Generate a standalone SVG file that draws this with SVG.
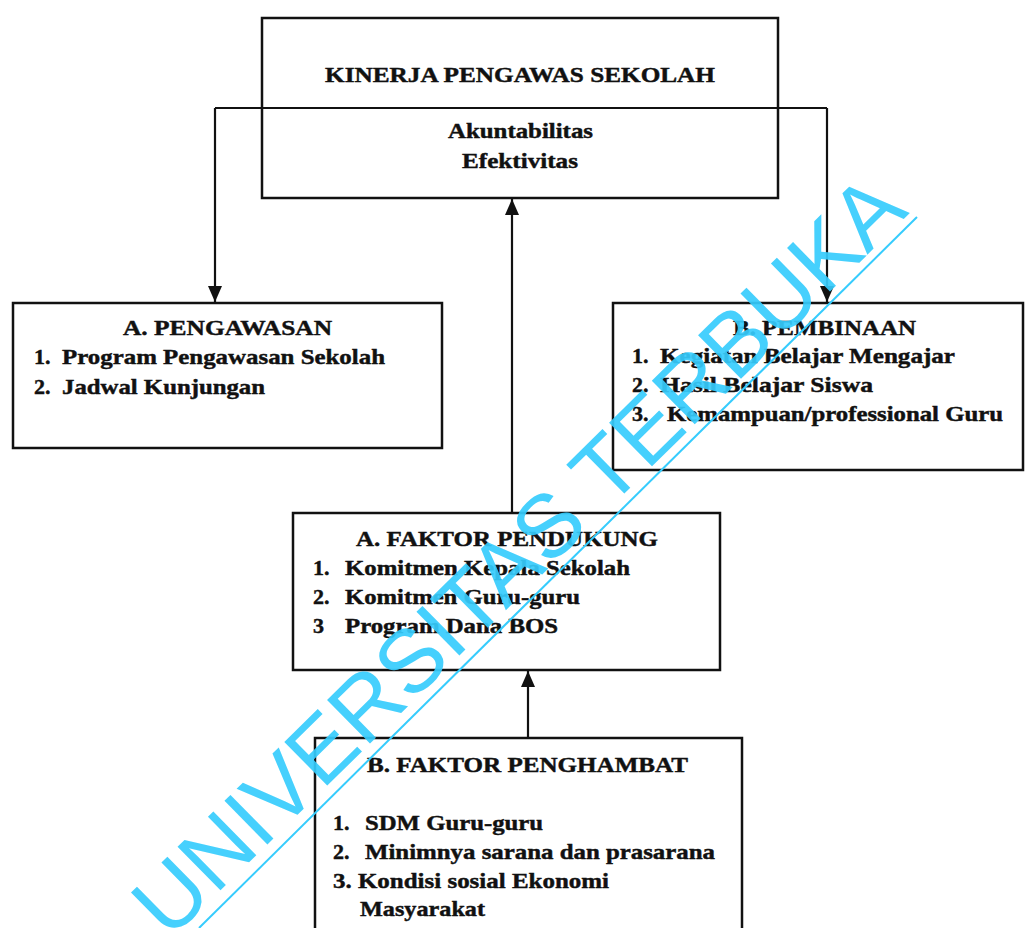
<svg xmlns="http://www.w3.org/2000/svg" width="1026" height="928" viewBox="0 0 1026 928">
<style>
  .box { fill: #ffffff; stroke: #111111; stroke-width: 2.5; }
  .conn { fill: none; stroke: #111111; stroke-width: 2.2; }
  .t { font-family: "Liberation Serif", "Times New Roman", serif; font-weight: bold; font-size: 22px; fill: #111111; stroke: #111111; stroke-width: 0.45; }
  .wm { font-family: "Liberation Sans", Arial, sans-serif; font-size: 89px; fill: #36ccfd; fill-opacity: 0.92; }
</style>
<defs>
  <marker id="ah" markerUnits="userSpaceOnUse" markerWidth="16" markerHeight="16" viewBox="0 0 16 16" refX="16" refY="8" orient="auto">
    <path d="M0,1 L16,8 L0,15 Z" fill="#111111"/>
  </marker>
</defs>
<rect x="0" y="0" width="1026" height="928" fill="#ffffff"/>

<g id="kinerja">
  <rect class="box" x="262" y="18" width="516" height="180"/>
  <text class="t" x="325" y="82" textLength="390" lengthAdjust="spacingAndGlyphs">KINERJA PENGAWAS SEKOLAH</text>
  <text class="t" x="448" y="138" textLength="145" lengthAdjust="spacingAndGlyphs">Akuntabilitas</text>
  <text class="t" x="462" y="168" textLength="116" lengthAdjust="spacingAndGlyphs">Efektivitas</text>
</g>

<g id="pengawasan">
  <rect class="box" x="13" y="303" width="429" height="145"/>
  <text class="t" x="123" y="335" textLength="209" lengthAdjust="spacingAndGlyphs">A. PENGAWASAN</text>
  <text class="t" x="34" y="364">1.</text>
  <text class="t" x="62" y="364" textLength="323" lengthAdjust="spacingAndGlyphs">Program Pengawasan Sekolah</text>
  <text class="t" x="34" y="394">2.</text>
  <text class="t" x="62" y="394" textLength="203" lengthAdjust="spacingAndGlyphs">Jadwal Kunjungan</text>
</g>

<g id="pembinaan">
  <rect class="box" x="613" y="303" width="410" height="167"/>
  <text class="t" x="733" y="335" textLength="183" lengthAdjust="spacingAndGlyphs">B. PEMBINAAN</text>
  <text class="t" x="632" y="363">1.</text>
  <text class="t" x="660" y="363" textLength="295" lengthAdjust="spacingAndGlyphs">Kegiatan Belajar Mengajar</text>
  <text class="t" x="632" y="392">2.</text>
  <text class="t" x="660" y="392" textLength="213" lengthAdjust="spacingAndGlyphs">Hasil  Belajar Siswa</text>
  <text class="t" x="632" y="421">3.</text>
  <text class="t" x="667" y="421" textLength="336" lengthAdjust="spacingAndGlyphs">Kemampuan/professional Guru</text>
</g>

<g id="pendukung">
  <rect class="box" x="293" y="513" width="427" height="157"/>
  <text class="t" x="356" y="546" textLength="302" lengthAdjust="spacingAndGlyphs">A. FAKTOR PENDUKUNG</text>
  <text class="t" x="313" y="575">1.</text>
  <text class="t" x="345" y="575" textLength="285" lengthAdjust="spacingAndGlyphs">Komitmen Kepala Sekolah</text>
  <text class="t" x="313" y="604">2.</text>
  <text class="t" x="345" y="604" textLength="235" lengthAdjust="spacingAndGlyphs">Komitmen Guru-guru</text>
  <text class="t" x="313" y="633">3</text>
  <text class="t" x="345" y="633" textLength="213" lengthAdjust="spacingAndGlyphs">Program Dana BOS</text>
</g>

<g id="penghambat">
  <rect class="box" x="315" y="738" width="427" height="210"/>
  <text class="t" x="367" y="772" textLength="321" lengthAdjust="spacingAndGlyphs">B. FAKTOR PENGHAMBAT</text>
  <text class="t" x="333" y="830">1.</text>
  <text class="t" x="365" y="830" textLength="178" lengthAdjust="spacingAndGlyphs">SDM Guru-guru</text>
  <text class="t" x="333" y="859">2.</text>
  <text class="t" x="365" y="859" textLength="350" lengthAdjust="spacingAndGlyphs">Minimnya sarana dan prasarana</text>
  <text class="t" x="333" y="888" textLength="276" lengthAdjust="spacingAndGlyphs">3. Kondisi sosial Ekonomi</text>
  <text class="t" x="360" y="916" textLength="125" lengthAdjust="spacingAndGlyphs">Masyarakat</text>
</g>

<g id="connectors">
  <polyline class="conn" points="215,108 827,108"/>
  <line class="conn" x1="215" y1="108" x2="215" y2="302" marker-end="url(#ah)"/>
  <line class="conn" x1="827" y1="108" x2="827" y2="302" marker-end="url(#ah)"/>
  <line class="conn" x1="512" y1="513" x2="512" y2="199" marker-end="url(#ah)"/>
  <line class="conn" x1="528" y1="738" x2="528" y2="671" marker-end="url(#ah)"/>
</g>

<g id="watermark">
  <text class="wm" x="169" y="941" transform="rotate(-44.5 169 941)" textLength="1039" lengthAdjust="spacingAndGlyphs">UNIVERSITAS TERBUKA</text>
  <line x1="199" y1="928" x2="917" y2="217" stroke="#36ccfd" stroke-width="2"/>
</g>
</svg>
